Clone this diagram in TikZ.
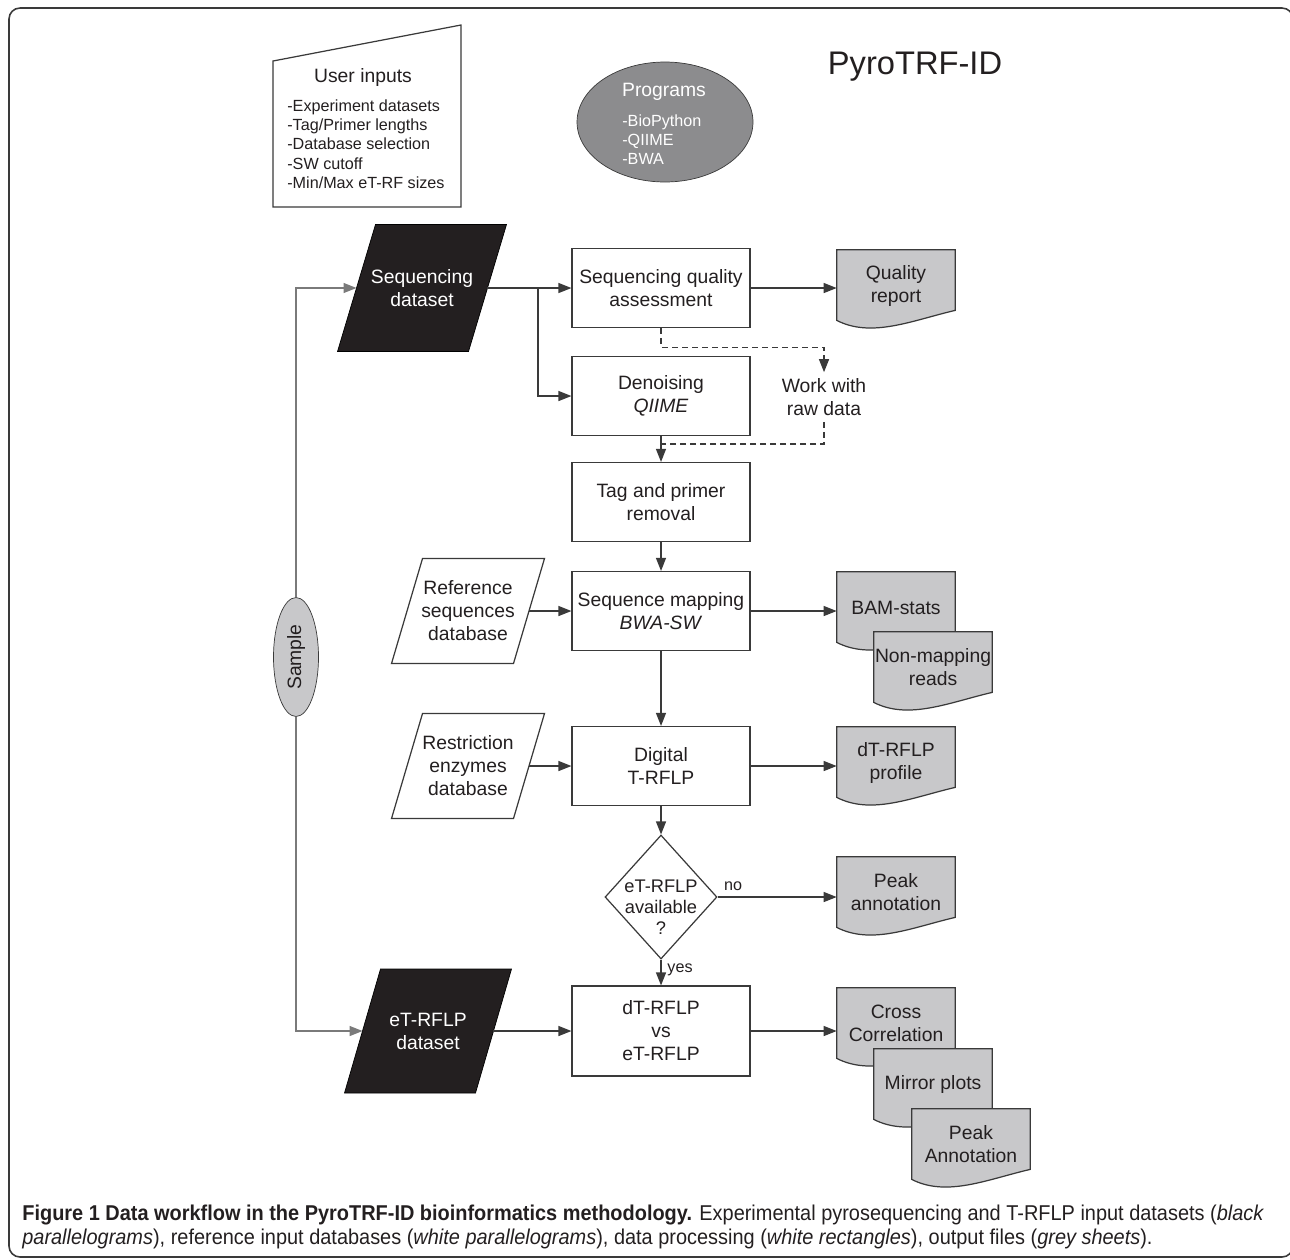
\documentclass[tikz,border=0pt]{standalone}
\usepackage{fontspec}
\setmainfont{Liberation Sans}
\newfontfamily\capfont[FakeStretch=0.93]{Liberation Sans}
\usetikzlibrary{shapes.geometric, arrows.meta}

\definecolor{inkdark}{HTML}{231F20}
\definecolor{linegrey}{HTML}{3A3A3A}
\definecolor{sheetgrey}{HTML}{C8C8CA}
\definecolor{proggrey}{HTML}{8C8C8E}
\definecolor{wiregrey}{HTML}{7A7A7A}

\tikzset{
  boxfont/.style={font=\fontsize{11}{13.1}\selectfont},
  listfont/.style={font=\fontsize{9.2}{11.05}\selectfont},
  procbox/.style={draw=linegrey, line width=0.7pt, fill=white, text=inkdark, align=center,
    minimum width=3.56cm, minimum height=1.58cm, inner sep=0pt, boxfont},
  blackframe/.style={fill=inkdark},
  whiteframe/.style={draw=linegrey, line width=0.7pt, fill=white},
  blacktext/.style={text=white, align=center, inner sep=0pt, boxfont},
  whitetext/.style={text=inkdark, align=center, inner sep=0pt, boxfont},
  sheetbox/.style={minimum width=2.36cm, minimum height=1.52cm, inner sep=0pt},
  sheetline/.style={draw=linegrey, line width=0.7pt, fill=sheetgrey},
  sheettext/.style={text=inkdark, align=center, inner sep=0pt, boxfont},
  flow/.style={draw=linegrey, line width=0.7pt, -{Triangle[length=0.26cm, width=0.2cm]}},
  dashflow/.style={flow, dash pattern=on 0.12cm off 0.08cm},
  dashline/.style={draw=linegrey, line width=0.7pt, dash pattern=on 0.12cm off 0.08cm},
  sampleflow/.style={flow, draw=wiregrey},
  lbl/.style={text=inkdark, font=\fontsize{9.2}{11}\selectfont},
}

% parallelogram: name, centre, half width, half height, half slant, frame style, text style, text
\newcommand{\slantbox}[8]{%
  \coordinate (#1) at (#2);
  \draw[#6] ([shift={(-#3+#5,#4)}]#1) -- ([shift={(#3+#5,#4)}]#1) -- ([shift={(#3-#5,-#4)}]#1) -- ([shift={(-#3-#5,-#4)}]#1) -- cycle;
  \coordinate (#1-w) at ([xshift=-#3]#1);
  \coordinate (#1-e) at ([xshift=#3]#1);
  \node[#7] (#1txt) at (#1) {#8};
}

% grey output sheet: name, position, text
\newcommand{\outsheet}[3]{%
  \node[sheetbox] (#1) at (#2) {};
  \draw[sheetline] (#1.north west) -- (#1.north east) -- ([yshift=0.32cm]#1.south east)
    .. controls ([xshift=-0.86cm, yshift=0.12cm]#1.south east) and ([xshift=0.7cm, yshift=-0.24cm]#1.south west) .. ([yshift=0.12cm]#1.south west) -- cycle;
  \node[sheettext] (#1txt) at ([yshift=0.05cm]#1.center) {#3};
}

\begin{document}
\begin{tikzpicture}[x=0.02cm, y=-0.02cm]
    \useasboundingbox (0,0) rectangle (1290,1259);
    % Frame
    \draw[linegrey, line width=0.9pt, rounded corners=0.22cm] (9,8) rectangle (1293,1257);

    % Header
    \node[text=inkdark, font=\fontsize{18.6}{22}\selectfont] (title) at (915,67) {PyroTRF-ID};
    \draw[linegrey, line width=0.7pt, fill=white] (273,61) -- (461,25) -- (461,207) -- (273,207) -- cycle;
    \node[text=inkdark, boxfont] (uin) at (363,77) {User inputs};
    \node[text=inkdark, listfont, anchor=north west, align=left, inner sep=0pt] (uinlist) at (287,99)
      {-Experiment datasets\\-Tag/Primer lengths\\-Database selection\\-SW cutoff\\-Min/Max eT-RF sizes};
    \node[ellipse, draw=linegrey, fill=proggrey, minimum width=3.52cm, minimum height=2.4cm] (prog) at (665,122) {};
    \node[text=white, boxfont] (progtitle) at (664,92) {Programs};
    \node[text=white, listfont, anchor=north west, align=left, inner sep=0pt] (proglist) at (622,114)
      {-BioPython\\-QIIME\\-BWA};

    % Inputs
    \slantbox{seqds}{422,288}{1.31cm}{1.27cm}{0.38cm}{blackframe}{blacktext}{Sequencing\\dataset}
    \slantbox{etds}{428,1031}{1.31cm}{1.24cm}{0.36cm}{blackframe}{blacktext}{eT-RFLP\\dataset}
    \slantbox{ref}{468,611}{1.22cm}{1.05cm}{0.31cm}{whiteframe}{whitetext}{Reference\\sequences\\database}
    \slantbox{rest}{468,766}{1.22cm}{1.05cm}{0.31cm}{whiteframe}{whitetext}{Restriction\\enzymes\\database}
    \node[ellipse, draw=linegrey, fill=sheetgrey, text=inkdark, minimum width=0.9cm, minimum height=2.38cm,
      inner sep=0pt, boxfont] (smp) at (296,657) {\rotatebox{90}{Sample}};

    % Processing
    \node[procbox] (qual) at (661,288) {Sequencing quality\\assessment};
    \node[procbox] (denoise) at (661,396) {Denoising\\\textit{QIIME}};
    \node[procbox] (tag) at (661,502) {Tag and primer\\removal};
    \node[procbox] (map) at (661,611) {Sequence mapping\\\textit{BWA-SW}};
    \node[procbox] (dig) at (661,766) {Digital\\T-RFLP};
    \node[diamond, draw=linegrey, line width=0.7pt, minimum width=2.24cm, minimum height=2.48cm, inner sep=0pt] (chk) at (661,897) {};
    \node[text=inkdark, align=center, font=\fontsize{10.4}{12}\selectfont] (chktxt) at ([yshift=-0.2cm]chk.center) {eT-RFLP\\available\\?};
    \node[procbox, minimum height=1.8cm] (cmp) at (661,1031) {dT-RFLP\\vs\\eT-RFLP};
    \node[text=inkdark, align=center, boxfont] (raw) at (824,397) {Work with\\raw data};

    % Outputs
    \outsheet{qrep}{896,288}{Quality\\report}
    \outsheet{bam}{896,610}{BAM-stats}
    \outsheet{nonmap}{933,670}{Non-mapping\\reads}
    \outsheet{prof}{896,765}{dT-RFLP\\profile}
    \outsheet{peak}{896,895}{Peak\\annotation}
    \outsheet{cc}{896,1026}{Cross\\Correlation}
    \outsheet{mirror}{933,1087}{Mirror plots}
    \outsheet{pann}{971,1147}{Peak\\Annotation}

    % Connectors
    \coordinate (split) at (538,288);
    \coordinate (join) at (661,444);
    \draw[sampleflow] (smp.north) |- (seqds-w);
    \draw[sampleflow] (smp.south) |- (etds-w);
    \draw[flow] (seqds-e) -- (qual);
    \draw[flow] (split) |- (denoise);
    \draw[flow] (qual) -- (qual -| qrep.west);
    \draw[dashflow] (qual.south) -- ++(0,19) -| (raw.north);
    \draw[dashline] (raw.south) |- (join);
    \draw[flow] (denoise) -- (tag);
    \draw[flow] (tag) -- (map);
    \draw[flow] (ref-e) -- (map);
    \draw[flow] (map) -- (map -| bam.west);
    \draw[flow] (map) -- (dig);
    \draw[flow] (rest-e) -- (dig);
    \draw[flow] (dig) -- (dig -| prof.west);
    \draw[flow] (dig) -- (chk);
    \draw[flow] (chk) -- (chk -| peak.west) node[lbl, pos=0.13, above] {no};
    \draw[flow] (chk) -- (cmp) node[lbl, pos=0.4, right] {yes};
    \draw[flow] (etds-e) -- (cmp);
    \draw[flow] (cmp) -- (cmp -| cc.west);

    % Caption
    \node[anchor=north west, inner sep=0pt, align=left, text=inkdark, font=\capfont\fontsize{12.2}{13.6}\selectfont] (cap) at (22,1205)
      {\textbf{Figure 1 Data workflow in the PyroTRF-ID bioinformatics methodology.} Experimental pyrosequencing and T-RFLP input datasets (\textit{black}\\
       \textit{parallelograms}), reference input databases (\textit{white parallelograms}), data processing (\textit{white rectangles}), output files (\textit{grey sheets}).};
\end{tikzpicture}
\end{document}
